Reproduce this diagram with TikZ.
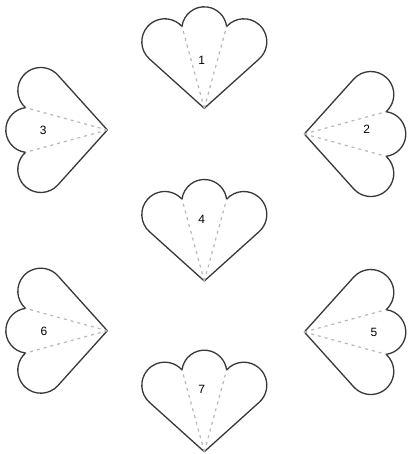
\documentclass[tikz,border=0pt]{standalone}
\usepackage{fontspec}
\setmainfont{Liberation Sans}
\begin{document}
\begin{tikzpicture}[x=1pt,y=1pt,
  outline/.style={draw=black!78, line width=1.3pt, line join=round, fill=white},
  crease/.style={draw=black!28, line width=1.2pt, dash pattern=on 3pt off 4pt},
  num/.style={font=\fontsize{12}{14}\selectfont, inner sep=0pt},
  fan/.pic={
    \path[outline] (0,0) -- (-54.89,49.40)
      arc[start angle=228.01, end angle=41.69, radius=23pt]
      arc[start angle=172.88, end angle=7.12, radius=22.5pt]
      arc[start angle=138.31, end angle=-48.01, radius=23pt] -- cycle;
    \coordinate (-tip) at (0,0);
    \coordinate (-cl) at (-22.33,81.79);
    \coordinate (-cr) at (22.33,81.79);
    \draw[crease] (-tip) -- (-cl);
    \draw[crease] (-tip) -- (-cr);
  }]
\fill[white] (0,0) rectangle (407,-454);
\useasboundingbox (0,0) rectangle (407,-454);
\pic (f1) at (204.3,-108.3) {fan};
\pic[rotate=-90] (f2) at (304.3,-134) {fan};
\pic[rotate=90] (f3) at (107.3,-130) {fan};
\pic (f4) at (204.3,-281) {fan};
\pic[rotate=-90] (f5) at (304.3,-332) {fan};
\pic[rotate=90] (f6) at (107.3,-330.7) {fan};
\pic (f7) at (204.3,-451.7) {fan};
\node[num] (n1) at (201.7,-60) {1};
\node[num] (n2) at (366.7,-129.3) {2};
\node[num] (n3) at (43.3,-130) {3};
\node[num] (n4) at (201.7,-219.3) {4};
\node[num] (n5) at (374,-332) {5};
\node[num] (n6) at (44,-331.3) {6};
\node[num] (n7) at (201.7,-389) {7};
\end{tikzpicture}
\end{document}
